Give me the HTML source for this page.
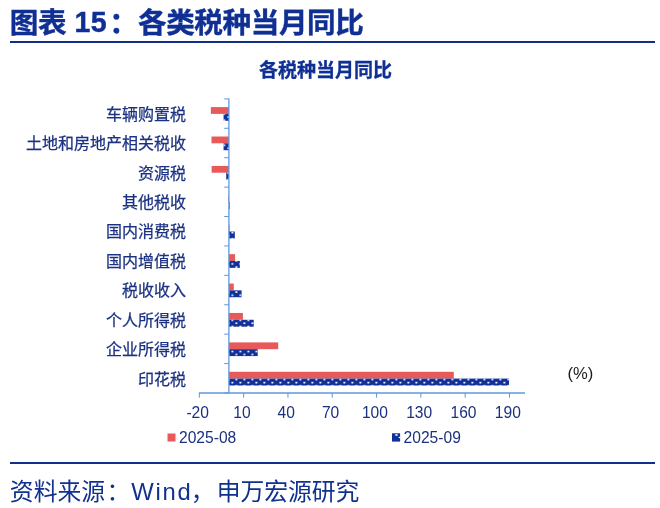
<!DOCTYPE html>
<html lang="zh-CN"><head><meta charset="utf-8"><title>图表 15</title>
<style>
html,body{margin:0;padding:0;background:#fff;}
body{width:660px;height:508px;position:relative;overflow:hidden;font-family:"Liberation Sans","Noto Sans CJK SC",sans-serif;}
.abs{position:absolute;white-space:nowrap;line-height:1;}
.title{left:9.8px;top:8.8px;font-size:28.6px;font-weight:bold;color:#0F2F94;letter-spacing:-0.4px;-webkit-text-stroke:0.4px #0F2F94;}
.rule1{left:10px;top:41px;width:645px;height:2.4px;background:#112E88;}
.ctitle{left:0;width:651px;text-align:center;top:61px;font-size:19.05px;font-weight:bold;color:#0F2F94;-webkit-text-stroke:0.3px #0F2F94;}
.cat{right:474px;font-size:16px;color:#1B3180;text-align:right;-webkit-text-stroke:0.25px #1B3180;}
.xt{font-size:15.6px;color:#1B3180;width:60px;text-align:center;top:404.5px;}
.lg{font-size:15.6px;color:#1B3180;top:429.5px;}
.pct{left:567.4px;top:366.3px;font-size:16.6px;color:#1a1a1a;}
.rule2{left:10px;top:462px;width:645px;height:2.4px;background:#112E88;}
.src{left:9.85px;top:479.6px;font-size:23.8px;color:#11318F;}
</style></head><body>

<div class="abs title">图表<span style="margin-left:0px;letter-spacing:0.4px;position:relative;top:-1px"> 15</span><span style="margin-left:2.0px;margin-right:0.6px">：</span>各类税种当月同比</div>
<div class="abs rule1"></div>
<div class="abs ctitle">各税种当月同比</div>
<svg width="660" height="508" viewBox="0 0 660 508" style="position:absolute;left:0;top:0">
<defs><pattern id="dots" x="0" y="0" width="8" height="6.25" patternUnits="userSpaceOnUse"><rect width="8" height="6.25" fill="#10309A"/><rect x="-0.6" y="0.7" width="2" height="1.5" fill="#fff"/><rect x="7.4" y="0.7" width="2" height="1.5" fill="#fff"/><rect x="3.4" y="3.83" width="2" height="1.5" fill="#fff"/></pattern></defs>
<rect x="210.88" y="107.10" width="18.02" height="6.80" fill="#E85A5A"/>
<rect x="223.58" y="113.90" width="5.32" height="6.90" fill="url(#dots)"/>
<rect x="211.47" y="136.51" width="17.43" height="6.80" fill="#E85A5A"/>
<rect x="223.58" y="143.31" width="5.32" height="6.90" fill="url(#dots)"/>
<rect x="211.62" y="165.92" width="17.28" height="6.80" fill="#E85A5A"/>
<rect x="226.24" y="172.72" width="2.66" height="6.90" fill="url(#dots)"/>
<rect x="228.16" y="195.33" width="0.74" height="6.80" fill="#E85A5A"/>
<rect x="228.90" y="202.13" width="0.74" height="6.90" fill="url(#dots)"/>
<rect x="228.90" y="224.74" width="0.74" height="6.80" fill="#E85A5A"/>
<rect x="228.90" y="231.54" width="5.91" height="6.90" fill="url(#dots)"/>
<rect x="228.90" y="254.15" width="6.20" height="6.80" fill="#E85A5A"/>
<rect x="228.90" y="260.95" width="10.93" height="6.90" fill="url(#dots)"/>
<rect x="228.90" y="283.56" width="4.87" height="6.80" fill="#E85A5A"/>
<rect x="228.90" y="290.36" width="12.70" height="6.90" fill="url(#dots)"/>
<rect x="228.90" y="312.97" width="14.03" height="6.80" fill="#E85A5A"/>
<rect x="228.90" y="319.77" width="24.81" height="6.90" fill="url(#dots)"/>
<rect x="228.90" y="342.38" width="49.32" height="6.80" fill="#E85A5A"/>
<rect x="228.90" y="349.18" width="28.80" height="6.90" fill="url(#dots)"/>
<rect x="228.90" y="371.79" width="224.90" height="6.80" fill="#E85A5A"/>
<rect x="228.90" y="378.59" width="280.13" height="6.90" fill="url(#dots)"/>
<line x1="228.9" y1="98.4" x2="228.9" y2="393.0" stroke="#5F98DC" stroke-width="1.3"/>
<line x1="224.20000000000002" y1="98.90" x2="228.9" y2="98.90" stroke="#5F98DC" stroke-width="1"/>
<line x1="224.20000000000002" y1="128.31" x2="228.9" y2="128.31" stroke="#5F98DC" stroke-width="1"/>
<line x1="224.20000000000002" y1="157.72" x2="228.9" y2="157.72" stroke="#5F98DC" stroke-width="1"/>
<line x1="224.20000000000002" y1="187.13" x2="228.9" y2="187.13" stroke="#5F98DC" stroke-width="1"/>
<line x1="224.20000000000002" y1="216.54" x2="228.9" y2="216.54" stroke="#5F98DC" stroke-width="1"/>
<line x1="224.20000000000002" y1="245.95" x2="228.9" y2="245.95" stroke="#5F98DC" stroke-width="1"/>
<line x1="224.20000000000002" y1="275.36" x2="228.9" y2="275.36" stroke="#5F98DC" stroke-width="1"/>
<line x1="224.20000000000002" y1="304.77" x2="228.9" y2="304.77" stroke="#5F98DC" stroke-width="1"/>
<line x1="224.20000000000002" y1="334.18" x2="228.9" y2="334.18" stroke="#5F98DC" stroke-width="1"/>
<line x1="224.20000000000002" y1="363.59" x2="228.9" y2="363.59" stroke="#5F98DC" stroke-width="1"/>
<line x1="224.20000000000002" y1="393.00" x2="228.9" y2="393.00" stroke="#5F98DC" stroke-width="1"/>
<line x1="198.87" y1="393.00" x2="525" y2="393.00" stroke="#5F98DC" stroke-width="1.3"/>
<line x1="199.37" y1="393.00" x2="199.37" y2="397.70" stroke="#5F98DC" stroke-width="1"/>
<line x1="243.67" y1="393.00" x2="243.67" y2="397.70" stroke="#5F98DC" stroke-width="1"/>
<line x1="287.97" y1="393.00" x2="287.97" y2="397.70" stroke="#5F98DC" stroke-width="1"/>
<line x1="332.27" y1="393.00" x2="332.27" y2="397.70" stroke="#5F98DC" stroke-width="1"/>
<line x1="376.57" y1="393.00" x2="376.57" y2="397.70" stroke="#5F98DC" stroke-width="1"/>
<line x1="420.87" y1="393.00" x2="420.87" y2="397.70" stroke="#5F98DC" stroke-width="1"/>
<line x1="465.17" y1="393.00" x2="465.17" y2="397.70" stroke="#5F98DC" stroke-width="1"/>
<line x1="509.47" y1="393.00" x2="509.47" y2="397.70" stroke="#5F98DC" stroke-width="1"/>
<rect x="167.5" y="433.5" width="8" height="8" fill="#E85A5A"/>
<rect x="392" y="433.3" width="8.1" height="8.3" fill="#10309A"/><rect x="395.4" y="434.1" width="2.1" height="1.7" fill="#fff"/><rect x="398.7" y="436.8" width="1.5" height="1.3" fill="#fff"/>
</svg>
<div class="abs cat" style="top:106.8px">车辆购置税</div>
<div class="abs cat" style="top:136.2px">土地和房地产相关税收</div>
<div class="abs cat" style="top:165.6px">资源税</div>
<div class="abs cat" style="top:195.0px">其他税收</div>
<div class="abs cat" style="top:224.4px">国内消费税</div>
<div class="abs cat" style="top:253.9px">国内增值税</div>
<div class="abs cat" style="top:283.3px">税收收入</div>
<div class="abs cat" style="top:312.7px">个人所得税</div>
<div class="abs cat" style="top:342.1px">企业所得税</div>
<div class="abs cat" style="top:371.5px">印花税</div>
<div class="abs xt" style="left:167.7px">-20</div>
<div class="abs xt" style="left:212.0px">10</div>
<div class="abs xt" style="left:256.3px">40</div>
<div class="abs xt" style="left:300.6px">70</div>
<div class="abs xt" style="left:344.9px">100</div>
<div class="abs xt" style="left:389.2px">130</div>
<div class="abs xt" style="left:433.5px">160</div>
<div class="abs xt" style="left:477.8px">190</div>
<div class="abs lg" style="left:179px">2025-08</div>
<div class="abs lg" style="left:403.6px">2025-09</div>
<div class="abs pct">(%)</div>
<div class="abs rule2"></div>
<div class="abs src">资料来源<span style="margin-left:1.5px;margin-right:-1.5px">：</span><span style="margin-left:2.4px;letter-spacing:1.8px">Wind</span><span style="margin-left:-2px">，</span><span style="margin-left:2.2px">申万宏源研究</span></div>
</body></html>
